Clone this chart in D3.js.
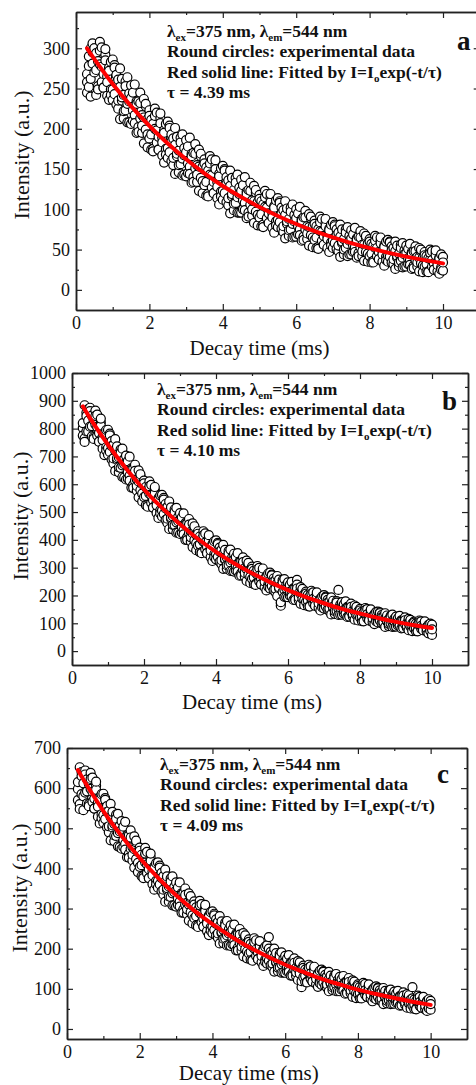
<!DOCTYPE html>
<html>
<head>
<meta charset="utf-8">
<script src="https://cdn.jsdelivr.net/npm/d3@7"></script>
<style>
  body { margin: 0; background: #fff; }
  svg { display: block; }
  svg text { font-family: "Liberation Serif", "Times New Roman", "DejaVu Serif", serif; }
</style>
</head>
<body>
<div id="chart"></div>
<script>
// sampling times of the decay curves (ms)
const decayTimes = [
  0.30,0.35,0.40,0.45,
  0.50,0.55,0.60,0.65,0.70,0.75,0.80,0.85,0.90,0.95,
  1.00,1.05,1.10,1.15,1.20,1.25,1.30,1.35,1.40,1.45,
  1.50,1.55,1.60,1.65,1.70,1.75,1.80,1.85,1.90,1.95,
  2.00,2.05,2.10,2.15,2.20,2.25,2.30,2.35,2.40,2.45,
  2.50,2.55,2.60,2.65,2.70,2.75,2.80,2.85,2.90,2.95,
  3.00,3.05,3.10,3.15,3.20,3.25,3.30,3.35,3.40,3.45,
  3.50,3.55,3.60,3.65,3.70,3.75,3.80,3.85,3.90,3.95,
  4.00,4.05,4.10,4.15,4.20,4.25,4.30,4.35,4.40,4.45,
  4.50,4.55,4.60,4.65,4.70,4.75,4.80,4.85,4.90,4.95,
  5.00,5.05,5.10,5.15,5.20,5.25,5.30,5.35,5.40,5.45,
  5.50,5.55,5.60,5.65,5.70,5.75,5.80,5.85,5.90,5.95,
  6.00,6.05,6.10,6.15,6.20,6.25,6.30,6.35,6.40,6.45,
  6.50,6.55,6.60,6.65,6.70,6.75,6.80,6.85,6.90,6.95,
  7.00,7.05,7.10,7.15,7.20,7.25,7.30,7.35,7.40,7.45,
  7.50,7.55,7.60,7.65,7.70,7.75,7.80,7.85,7.90,7.95,
  8.00,8.05,8.10,8.15,8.20,8.25,8.30,8.35,8.40,8.45,
  8.50,8.55,8.60,8.65,8.70,8.75,8.80,8.85,8.90,8.95,
  9.00,9.05,9.10,9.15,9.20,9.25,9.30,9.35,9.40,9.45,
  9.50,9.55,9.60,9.65,9.70,9.75,9.80,9.85,9.90,9.95,
  10.00
];

// panel a, three interleaved readings
const intensityA1 = [
  268,252,300,281,
  300,242,284,308,258,268,292,241,276,249,
  249,279,230,261,212,262,242,223,264,208,
  238,210,255,195,234,213,195,237,199,212,
  223,174,206,225,183,190,213,167,198,175,
  176,204,160,188,144,190,173,156,193,143,
  171,145,189,133,170,151,134,174,139,153,
  162,117,148,166,127,134,155,114,144,122,
  123,150,109,136,95,139,124,108,143,96,
  123,100,140,89,124,106,92,129,97,109,
  118,79,106,123,89,95,114,77,104,85,
  87,110,76,99,64,101,88,75,106,66,
  89,69,103,61,90,75,63,94,68,79,
  86,52,75,91,61,67,83,52,76,59,
  61,81,51,71,41,75,63,52,78,44,
  64,47,77,40,66,53,42,70,47,57,
  63,34,55,67,42,47,61,35,55,41,
  42,60,34,52,26,55,45,36,58,29,
  46,32,57,26,48,37,29,52,33,40,
  47,23,39,50,29,33,46,23,40,28,
  41
];
const intensityA2 = [
  245,290,262,306,
  270,294,253,280,301,251,285,265,236,283,
  286,243,267,225,252,235,213,259,231,244,
  206,245,217,234,202,245,217,182,228,193,
  188,211,175,200,220,174,207,189,158,206,
  209,171,193,155,180,166,146,189,163,176,
  141,178,153,169,140,181,155,123,166,135,
  130,152,119,143,162,120,150,134,106,151,
  154,120,140,105,129,116,99,139,115,127,
  96,130,108,122,96,133,111,83,121,93,
  90,110,81,103,119,83,109,95,71,111,
  114,84,102,72,93,82,67,102,82,93,
  66,95,75,88,66,98,79,55,89,65,
  62,79,53,73,88,56,79,67,47,81,
  84,58,75,48,66,58,44,75,57,67,
  44,69,53,64,46,73,56,36,65,45,
  42,57,36,52,65,38,58,48,30,60,
  62,41,54,32,48,40,29,56,40,49,
  29,51,37,47,30,54,41,23,48,30,
  29,42,23,38,48,25,43,34,20,44,
  24
];
const intensityA3 = [
  258,278,240,295,
  300,273,249,297,277,251,299,258,272,242,
  236,276,257,235,275,239,222,253,208,234,
  254,223,207,231,196,232,204,214,231,177,
  216,193,172,216,198,174,219,183,195,168,
  164,201,184,164,201,169,155,183,142,167,
  186,157,144,166,134,169,143,153,169,120,
  157,134,116,157,142,120,161,128,141,116,
  112,148,132,114,148,119,107,133,96,119,
  137,111,99,119,91,123,100,110,124,80,
  113,94,78,115,102,83,119,90,102,80,
  78,108,95,79,110,85,74,97,65,85,
  100,79,68,86,62,90,70,78,91,53,
  82,65,51,84,72,56,88,63,74,55,
  52,79,68,55,81,60,50,71,42,61,
  74,55,47,62,42,65,48,56,67,35,
  60,45,34,61,52,38,65,44,53,37,
  35,59,49,38,60,42,34,52,28,44,
  55,39,31,45,27,48,34,40,50,22,
  43,32,22,46,37,25,49,31,39,25,
  34
];

// panel b
const intensityB1 = [
  802,765,858,829,
  875,772,831,865,775,784,823,728,786,733,
  730,782,689,741,648,736,697,659,728,624,
  674,620,699,588,656,613,577,650,579,600,
  613,525,579,610,533,543,579,497,550,506,
  505,551,472,518,439,517,485,453,515,426,
  471,426,495,400,460,425,394,459,399,418,
  431,356,403,431,366,375,408,338,385,348,
  348,389,322,363,296,364,337,310,365,288,
  329,290,352,271,324,294,268,325,274,293,
  304,241,282,306,251,260,289,230,270,239,
  240,275,219,254,198,257,172,213,259,195,
  230,199,249,184,227,256,183,230,188,204,
  214,162,197,217,172,180,204,156,189,164,
  166,196,149,179,132,181,163,145,220,132,
  161,135,179,123,160,141,124,164,129,143,
  152,108,138,155,118,124,145,104,133,113,
  114,139,100,125,87,128,114,99,131,88,
  112,92,127,82,112,97,84,116,88,99,
  106,72,95,110,80,86,102,71,94,77,
  95
];
const intensityB2 = [
  775,884,790,870,
  807,847,769,815,850,753,811,771,705,795,
  796,716,755,675,720,688,643,725,668,690,
  617,683,631,657,598,670,617,553,630,566,
  554,590,525,566,598,516,568,535,479,560,
  562,493,529,461,501,476,438,510,463,483,
  421,481,435,460,410,475,429,374,444,388,
  379,412,356,394,423,352,399,371,324,395,
  398,339,372,313,350,328,296,360,319,338,
  286,338,300,322,280,337,298,252,313,267,
  260,289,242,274,299,240,281,258,218,279,
  282,234,261,212,244,226,163,255,221,237,
  194,238,207,226,191,239,208,170,220,183,
  177,202,164,190,211,163,198,179,146,197,
  201,160,184,144,170,156,134,180,153,167,
  131,168,143,159,130,171,145,113,156,125,
  121,141,110,133,151,110,139,124,97,141,
  142,110,129,97,118,107,90,127,105,116,
  88,118,98,111,88,121,100,75,109,84,
  82,99,73,92,107,75,98,86,64,99,
  58
];
const intensityB3 = [
  820,752,845,790,
  863,809,763,846,806,753,836,759,780,721,
  706,776,737,693,762,694,661,713,626,672,
  703,643,613,651,587,648,594,610,636,538,
  603,558,519,593,560,516,590,524,544,495,
  484,545,513,476,538,481,454,500,426,467,
  496,446,420,455,400,455,409,424,449,363,
  422,384,352,417,390,352,417,362,380,338,
  330,385,358,327,382,332,309,351,288,325,
  350,308,287,318,272,320,281,295,317,245,
  296,265,238,294,271,240,297,250,266,231,
  225,272,250,224,270,230,176,247,195,226,
  247,213,196,223,184,225,193,206,224,165,
  207,182,160,207,188,163,211,172,186,157,
  153,192,174,153,193,159,144,174,130,157,
  176,147,134,156,124,159,133,143,159,110,
  146,125,107,147,132,110,150,118,130,107,
  103,136,121,105,136,109,98,122,87,109,
  124,102,91,108,83,111,91,99,112,72,
  102,85,71,103,91,75,107,82,92,73,
  78
];

// panel c
const intensityC1 = [
  598,560,640,612,
  644,562,610,638,566,574,606,529,577,535,
  533,575,502,543,470,541,511,481,536,453,
  495,453,516,428,482,449,420,480,423,441,
  452,381,425,451,388,398,428,361,405,369,
  369,407,343,381,317,380,355,329,380,308,
  345,309,365,290,338,310,286,338,291,307,
  318,258,296,319,266,274,302,244,283,253,
  254,287,233,266,213,268,247,226,269,209,
  241,211,260,196,237,215,195,239,199,214,
  223,173,205,226,182,190,212,166,199,173,
  175,229,159,187,143,189,171,154,191,141,
  168,144,184,133,167,148,132,169,138,150,
  158,117,144,160,125,131,150,112,138,119,
  120,144,107,131,94,133,120,105,137,94,
  118,98,132,88,118,103,89,121,94,104,
  111,77,100,115,85,91,106,75,98,81,
  83,103,72,92,62,95,83,72,98,63,
  83,66,95,58,83,71,60,87,64,73,
  104,50,70,83,57,62,76,49,70,55,
  70
];
const intensityC2 = [
  570,652,585,545,
  589,622,560,598,626,549,596,564,512,585,
  586,523,555,490,528,502,468,534,488,506,
  449,504,461,483,436,495,453,402,465,414,
  404,434,381,415,441,376,419,392,347,413,
  415,360,389,335,367,347,317,375,338,354,
  305,353,317,338,298,350,314,270,327,283,
  276,303,258,289,311,255,294,271,234,291,
  293,247,273,227,256,239,214,265,233,248,
  207,248,219,237,203,249,218,181,229,193,
  188,212,173,200,221,174,206,188,157,205,
  208,170,192,154,179,165,144,187,161,174,
  140,175,150,166,139,176,152,122,163,104,
  129,148,118,140,156,118,145,130,105,145,
  148,116,135,103,124,113,97,133,111,122,
  94,124,103,117,94,127,105,80,115,89,
  87,104,78,97,112,80,102,90,69,103,
  106,80,96,69,87,78,64,95,77,86,
  63,88,71,82,63,91,74,53,82,61,
  58,73,51,68,80,53,73,62,45,74,
  48
];
const intensityC3 = [
  615,548,630,580,
  634,592,555,623,591,549,616,554,572,525,
  514,571,541,505,561,507,482,524,455,492,
  518,471,447,479,427,477,434,448,469,391,
  444,408,376,437,410,376,437,383,400,360,
  352,402,376,347,397,351,330,367,308,341,
  365,325,305,334,290,334,298,310,331,263,
  310,281,254,308,285,255,309,263,279,245,
  239,283,262,238,281,242,225,258,208,238,
  258,225,209,233,196,235,205,215,233,176,
  217,192,170,216,198,174,219,182,196,167,
  163,200,183,163,200,168,153,181,140,165,
  182,155,142,163,133,165,141,150,166,119,
  152,132,116,153,138,118,155,125,136,114,
  110,142,127,111,142,115,104,128,94,115,
  130,108,96,114,89,117,96,104,118,77,
  107,90,76,108,96,80,111,86,96,77,
  74,101,89,76,102,80,70,91,62,80,
  93,74,65,80,59,83,66,73,84,51,
  76,61,49,77,67,53,80,58,68,51,
  62
];

// fitted single-exponential curves, read at these times
const fitTimes = [0.3,0.5,1,1.5,2,2.5,3,3.5,4,4.5,5,5.5,6,6.5,7,7.5,8,8.5,9,9.5,10];
const fitA = [300,286.5,255.6,228.1,203.6,181.6,162.1,144.6,129.0,115.2,102.8,91.7,81.8,73.0,65.2,58.1,51.9,46.3,41.3,36.9,32.9];
const fitB = [880,838,742,657,581,515,456,403,357,316,280,248,219,194,172,152,135,119,105,93,83];
const fitC = [645,614,543,481,426,377,333,295,261,231,204,181,160,142,125,111,98,87,77,68,60];

// ticks
const xTicks = [0, 2, 4, 6, 8, 10];
const xMinor = [1, 3, 5, 7, 9];
const yTicksA = [0, 50, 100, 150, 200, 250, 300];
const yMinorA = [25, 75, 125, 175, 225, 275, 325];
const yTicksB = [0, 100, 200, 300, 400, 500, 600, 700, 800, 900, 1000];
const yMinorB = [50, 150, 250, 350, 450, 550, 650, 750, 850, 950];
const yTicksC = [0, 100, 200, 300, 400, 500, 600, 700];
const yMinorC = [50, 150, 250, 350, 450, 550, 650];

// texts
const panelLetters = ["a", "b", "c"];
const tauLabels = ["τ = 4.39 ms", "τ = 4.10 ms", "τ = 4.09 ms"];
const xTitle = "Decay time (ms)";
const yTitle = "Intensity (a.u.)";

const FONT = "Liberation Serif, Times New Roman, DejaVu Serif, serif";
const W = 476, H = 1085;
const svg = d3.select("#chart").append("svg")
  .attr("width", W)
  .attr("height", H)
  .attr("font-family", FONT);

const panels = [
  { series: [intensityA1, intensityA2, intensityA3], fit: fitA, yTicks: yTicksA, yMinor: yMinorA,
    yDomain: [-25, 345], left: 76, right: 479.7, top: 12, bottom: 310,
    textX: 167, textY: 37, letterX: 457, letterY: 50, xTitleY: 355, yTitleX: 29, yTitleY: 155 },
  { series: [intensityB1, intensityB2, intensityB3], fit: fitB, yTicks: yTicksB, yMinor: yMinorB,
    yDomain: [-50, 1000], left: 72, right: 468, top: 373, bottom: 665,
    textX: 157, textY: 395, letterX: 442, letterY: 410, xTitleY: 709, yTitleX: 28, yTitleY: 516 },
  { series: [intensityC1, intensityC2, intensityC3], fit: fitC, yTicks: yTicksC, yMinor: yMinorC,
    yDomain: [-25, 700], left: 67, right: 467, top: 748, bottom: 1039,
    textX: 160, textY: 770, letterX: 437, letterY: 783, xTitleY: 1080, yTitleX: 27, yTitleY: 888 }
];

const lineGap = 20.4;
const noteSize = 17.5;
const subSize = 11;

function styleAxis(g) {
  g.attr("font-family", FONT);
  g.selectAll("path.domain").attr("stroke", "#222").attr("stroke-width", 1.5);
  g.selectAll(".tick line").attr("stroke", "#222").attr("stroke-width", 1.2);
}

function drawPanel(p, i) {
  const x = d3.scaleLinear().domain([0, 11]).range([p.left, p.right]);
  const y = d3.scaleLinear().domain(p.yDomain).range([p.bottom, p.top]);
  const g = svg.append("g");

  // experimental points
  const pts = [];
  decayTimes.forEach((t, k) => {
    p.series.forEach(s => {
      if (s[k] !== undefined) pts.push({ t: t, v: s[k] });
    });
  });
  g.append("g").selectAll("circle")
    .data(pts)
    .enter()
    .append("circle")
    .attr("cx", d => x(d.t))
    .attr("cy", d => y(d.v))
    .attr("r", 4.5)
    .attr("fill", "#fff")
    .attr("stroke", "#000")
    .attr("stroke-width", 1.2);

  // fitted line
  const line = d3.line()
    .x((d, k) => x(fitTimes[k]))
    .y(d => y(d))
    .curve(d3.curveNatural);
  g.append("path")
    .datum(p.fit)
    .attr("d", line)
    .attr("fill", "none")
    .attr("stroke", "#ff0000")
    .attr("stroke-width", 4)
    .attr("stroke-linecap", "round");

  // axes (ticks inside, Origin style frame)
  const bottom = g.append("g")
    .attr("transform", `translate(0,${p.bottom})`)
    .call(d3.axisBottom(x).tickValues(xTicks).tickSizeInner(-6).tickSizeOuter(0).tickPadding(6));
  styleAxis(bottom);
  bottom.selectAll("text").attr("font-size", 18).attr("fill", "#111");
  g.append("g")
    .attr("transform", `translate(0,${p.bottom})`)
    .call(d3.axisBottom(x).tickValues(xMinor).tickSizeInner(-3).tickSizeOuter(0).tickFormat(""))
    .call(styleAxis);

  g.append("g")
    .attr("transform", `translate(0,${p.top})`)
    .call(d3.axisTop(x).tickValues(xTicks).tickSizeInner(-6).tickSizeOuter(0).tickFormat(""))
    .call(styleAxis);
  g.append("g")
    .attr("transform", `translate(0,${p.top})`)
    .call(d3.axisTop(x).tickValues(xMinor).tickSizeInner(-3).tickSizeOuter(0).tickFormat(""))
    .call(styleAxis);

  const leftAx = g.append("g")
    .attr("transform", `translate(${p.left},0)`)
    .call(d3.axisLeft(y).tickValues(p.yTicks).tickSizeInner(-6).tickSizeOuter(0)
      .tickPadding(6).tickFormat(d3.format("d")));
  styleAxis(leftAx);
  leftAx.selectAll("text").attr("font-size", 18).attr("fill", "#111");
  g.append("g")
    .attr("transform", `translate(${p.left},0)`)
    .call(d3.axisLeft(y).tickValues(p.yMinor).tickSizeInner(-3).tickSizeOuter(0).tickFormat(""))
    .call(styleAxis);

  g.append("g")
    .attr("transform", `translate(${p.right},0)`)
    .call(d3.axisRight(y).tickValues(p.yTicks).tickSizeInner(-6).tickSizeOuter(0).tickFormat(""))
    .call(styleAxis);
  g.append("g")
    .attr("transform", `translate(${p.right},0)`)
    .call(d3.axisRight(y).tickValues(p.yMinor).tickSizeInner(-3).tickSizeOuter(0).tickFormat(""))
    .call(styleAxis);

  // axis titles
  g.append("text")
    .attr("x", (x(0) + x(10)) / 2)
    .attr("y", p.xTitleY)
    .attr("text-anchor", "middle")
    .attr("font-size", 21)
    .attr("fill", "#111")
    .text(xTitle);
  g.append("text")
    .attr("transform", `translate(${p.yTitleX},${p.yTitleY}) rotate(-90)`)
    .attr("text-anchor", "middle")
    .attr("font-size", 22)
    .attr("fill", "#111")
    .text(yTitle);

  // annotation block
  const note = g.append("g").attr("font-weight", "bold").attr("font-size", noteSize).attr("fill", "#111");
  const l1 = note.append("text").attr("x", p.textX).attr("y", p.textY);
  l1.append("tspan").text("λ");
  l1.append("tspan").attr("font-size", subSize).attr("dy", 4).text("ex");
  l1.append("tspan").attr("dy", -4).text("=375 nm, λ");
  l1.append("tspan").attr("font-size", subSize).attr("dy", 4).text("em");
  l1.append("tspan").attr("dy", -4).text("=544 nm");

  note.append("text").attr("x", p.textX).attr("y", p.textY + lineGap)
    .text("Round circles: experimental data");

  const l3 = note.append("text").attr("x", p.textX).attr("y", p.textY + lineGap * 2);
  l3.append("tspan").text("Red solid line: Fitted by I=I");
  l3.append("tspan").attr("font-size", subSize).attr("dy", 4).text("o");
  l3.append("tspan").attr("dy", -4).text("exp(-t/τ)");

  note.append("text").attr("x", p.textX).attr("y", p.textY + lineGap * 3)
    .text(tauLabels[i]);

  g.append("text")
    .attr("x", p.letterX)
    .attr("y", p.letterY)
    .attr("font-weight", "bold")
    .attr("font-size", 27)
    .attr("fill", "#111")
    .text(panelLetters[i]);
}

panels.forEach(drawPanel);
</script>
</body>
</html>
